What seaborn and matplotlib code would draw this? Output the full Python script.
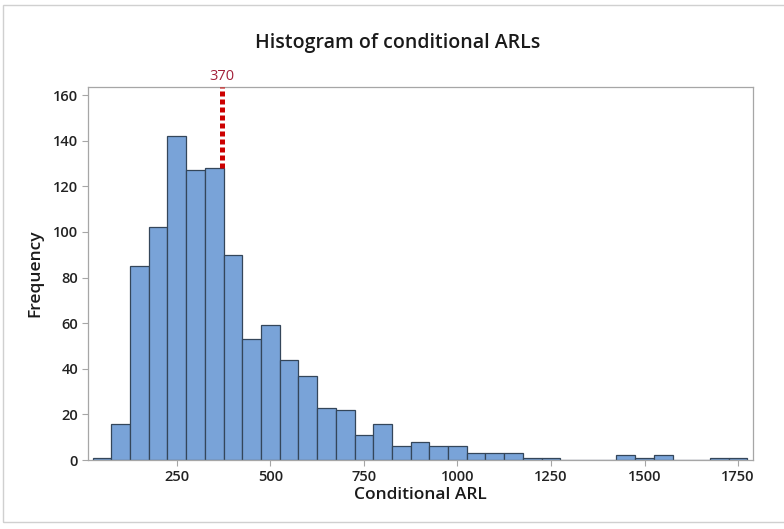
import numpy as np
import pandas as pd
import matplotlib
matplotlib.use("Agg")
import matplotlib.pyplot as plt
import seaborn as sns
from matplotlib.patches import Rectangle

# ---- data ----
bin_centers = [50, 100, 150, 200, 250, 300, 350, 400, 450, 500,
               550, 600, 650, 700, 750, 800, 850, 900, 950, 1000,
               1050, 1100, 1150, 1200, 1250, 1300, 1350, 1400, 1450, 1500,
               1550, 1600, 1650, 1700, 1750]
counts = [1, 16, 85, 102, 142, 127, 128, 90, 53, 59,
          44, 37, 23, 22, 11, 16, 6, 8, 6, 6,
          3, 3, 3, 1, 1, 0, 0, 0, 2, 1,
          2, 0, 0, 1, 1]
bin_width = 50
ref_value = 370
ref_label = "370"
x_ticks = [250, 500, 750, 1000, 1250, 1500, 1750]
y_ticks = [0, 20, 40, 60, 80, 100, 120, 140, 160]
title = "Histogram of conditional ARLs"
xlabel = "Conditional ARL"
ylabel = "Frequency"

df = pd.DataFrame({"ARL": bin_centers, "count": counts})

sns.set_style("white")
plt.rcParams["font.family"] = ["Open Sans", "DejaVu Sans"]

fig = plt.figure(figsize=(7.84, 5.29), dpi=100)
ax = fig.add_axes([0.1119, 0.1304, 0.9605 - 0.1119, 0.8355 - 0.1304])

sns.histplot(data=df, x="ARL", weights="count", binwidth=bin_width,
             binrange=(min(bin_centers) - bin_width / 2,
                       max(bin_centers) + bin_width / 2),
             ax=ax, color="#79A3D8", edgecolor="#34465A", linewidth=0.9,
             alpha=1.0)

ax.set_xlim(12, 1790)
ax.set_ylim(0, 163.5)
ax.set_xticks(x_ticks)
ax.set_yticks(y_ticks)

# reference line up to the bar top
ref_idx = int(np.argmin(np.abs(np.array(bin_centers) - ref_value)))
ax.plot([ref_value, ref_value], [counts[ref_idx], 163.5], color="#CC0000",
        linewidth=3.6, linestyle=(0, (1.0, 0.6)),
        dash_capstyle="butt", clip_on=False, zorder=5)
ax.text(ref_value, 165.0, ref_label, color="#A3203A", fontsize=10.5,
        ha="center", va="bottom")

for s in ax.spines.values():
    s.set_color("#A6A6A6")
    s.set_linewidth(0.9)
ax.tick_params(axis="both", which="both", direction="out", length=4,
               width=0.8, color="#A6A6A6", labelsize=10.5,
               labelcolor="#222222", bottom=True, left=True, pad=3)
for lab in ax.get_xticklabels() + ax.get_yticklabels():
    lab.set_fontweight("semibold")

ax.set_xlabel(xlabel, fontsize=12.5, fontweight="semibold", color="#1a1a1a",
              labelpad=2)
ax.set_ylabel(ylabel, fontsize=12.5, fontweight="semibold", color="#1a1a1a",
              labelpad=7)
fig.text(0.507, 0.918, title, fontsize=14, fontweight="semibold",
         color="#1a1a1a", ha="center", va="center")

# light outer frame like the screenshot
fig.patches.append(Rectangle((3 / 784, 1 - 522 / 529), 1, (522 - 5) / 529,
                             transform=fig.transFigure, fill=False,
                             edgecolor="#D0D0D0", linewidth=1))

fig.savefig("out.png", dpi=100, facecolor="white")
